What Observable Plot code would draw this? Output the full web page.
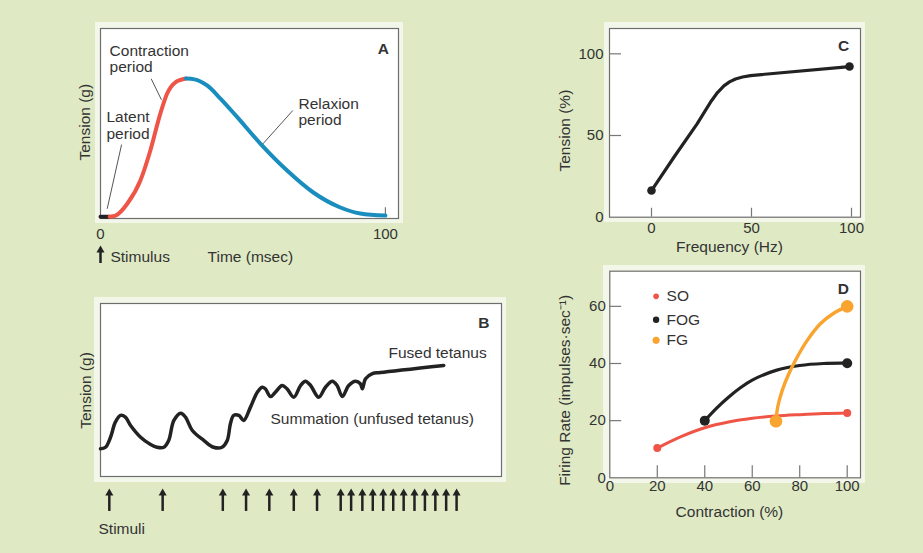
<!DOCTYPE html>
<html><head><meta charset="utf-8">
<script src="https://cdn.jsdelivr.net/npm/d3@7"></script>
<script src="https://cdn.jsdelivr.net/npm/@observablehq/plot@0.6"></script>
<style>
body{margin:0;background:#dfeac5;}
#fig{position:relative;width:923px;height:553px;background:#dfeac5;font-family:"Liberation Sans",Arial,sans-serif;color:#333;overflow:hidden}
.pale{position:absolute;background:#f3f7ea}
.panel{position:absolute}
</style></head><body><div id="fig"></div>
<script>
// ---------- Panel A: single twitch ----------
const latentTime = [0, 3.2];
const latentTension = [0.6, 0.6];
const contractTime = [3.2, 5.3, 9.4, 14, 17.5, 21, 23.4, 26.3, 30];
const contractTension = [0.6, 1.4, 9.9, 26.6, 48.2, 74.8, 89.2, 97.3, 100];
const relaxTime = [30, 33, 37.4, 42.1, 48, 56.1, 65.5, 74.7, 84.2, 91.2, 100];
const relaxTension = [100, 99.4, 95, 85.6, 72.2, 53.2, 33.8, 18, 7.2, 2.9, 1.4];
const timeTicks = [0, 100];

// ---------- Panel B: summation / tetanus ----------
const sumTime = [0,1.25,2.5,3.7,5.0,6.2,7.5,10.0,12.5,14.1,15.8,17.0,18.3,20.0,21.2,22.9,25.8,28.2,30.3,31.6,32.4,33.2,34.5,35.7,37.4,39.1,40.3,41.1,42.4,43.6,45.3,46.5,48.2,49.9,51.1,52.4,54.4,56.1,57.8,59.0,60.3,61.9,63.6,64.8,65.3,66.1,67.8,69.8,85.6];
const sumTension = [16.0,16.9,22.7,31.4,35.3,34.3,29.5,22.7,18.5,16.9,16.9,20.8,32.4,36.6,34.3,26.6,20.8,16.9,16.9,20.8,30.5,35.3,35.3,32.4,40.1,48.7,51.6,50.7,46.2,48.7,52.6,50.7,45.8,52.6,55.1,52.6,45.8,51.6,55.1,52.6,46.2,52.6,55.1,53.6,50.7,56.5,59.4,60.1,64.2];
const stimuliTime = [2.2,15.5,30.5,36.3,42.1,48.2,54.0,59.9,62.5,65.3,67.9,70.5,73.0,75.6,78.3,80.9,83.5,86.2,88.8];

// ---------- Panel C: frequency vs tension ----------
const freqHz = [0, 11.2, 22.8, 30, 33, 36.2, 39, 42, 45.5, 49.5, 99];
const freqTension = [16.3, 36.7, 57.1, 71.3, 76.3, 80.4, 82.8, 84.6, 85.8, 86.7, 92.2];
const freqTicks = [0, 50, 100];
const tensionTicks = [0, 50, 100];

// ---------- Panel D: firing rate vs contraction ----------
const soContraction = [20, 30, 40, 50, 60, 70, 80, 90, 100];
const soRate = [10.4, 14.4, 17.5, 19.5, 20.8, 21.6, 22.1, 22.5, 22.7];
const fogContraction = [40, 45, 50, 55, 60, 70, 80, 90, 100];
const fogRate = [20, 24.4, 28.2, 31.5, 34.2, 37.6, 39.3, 40, 40.1];
const fgContraction = [70, 70.7, 72.6, 75.4, 78.9, 83.1, 88.7, 94.3, 100];
const fgRate = [19.8, 24.7, 30.5, 36.4, 42.2, 48, 53.9, 57.6, 60];
const contractionTicks = [0, 20, 40, 60, 80, 100];
const rateTicks = [0, 20, 40, 60];
const fiberTypes = ["SO", "FOG", "FG"];

const RED = "#ef5547", BLUE = "#1a8dbf", ORANGE = "#f8a42f", INK = "#222", TXT = "#333";
const FONT = "Liberation Sans, Arial, Helvetica, sans-serif";
const zip = (xs, ys) => xs.map((x, i) => ({x, y: ys[i]}));
const baseStyle = {background: "transparent", color: TXT, fontFamily: FONT, fontSize: "15px", overflow: "visible"};
const fig = document.getElementById("fig");

function place(el, left, top) {
  el.classList.add("panel");
  el.style.left = left + "px";
  el.style.top = top + "px";
  fig.appendChild(el);
}
function pale(l, t, r, b) {
  const d = document.createElement("div");
  d.className = "pale";
  Object.assign(d.style, {left: l + "px", top: t + "px", width: (r - l) + "px", height: (b - t) + "px"});
  fig.appendChild(d);
}
const T = (arr, opts) => Plot.text(arr, {x: "x", y: "y", text: "t", fontSize: 15.5, fill: TXT, ...opts});

pale(95, 22, 403, 223);
pale(94, 297, 506, 482);
pale(604, 22, 865, 222);
pale(603, 265, 865, 483);

// Panel A
const A = Plot.plot({
  width: 360, height: 260, marginLeft: 40, marginRight: 22, marginTop: 18, marginBottom: 52,
  x: {domain: [0, 104.6], label: null},
  y: {domain: [-0.7, 136], axis: null, label: null},
  style: baseStyle,
  marks: [
    Plot.frame({fill: "white", stroke: "#6e6e6e", strokeWidth: 1.2}),
    Plot.ruleX([{x: 100}], {x: "x", y1: 0, y2: 7, stroke: "#777", strokeWidth: 1.2}),
    Plot.line(zip(latentTime, latentTension), {x: "x", y: "y", stroke: INK, strokeWidth: 4}),
    Plot.line(zip(contractTime, contractTension), {x: "x", y: "y", stroke: RED, strokeWidth: 4, curve: "monotone-x"}),
    Plot.line(zip(relaxTime, relaxTension), {x: "x", y: "y", stroke: BLUE, strokeWidth: 4, curve: "monotone-x"}),
    Plot.link([
      {x1: 17.8, y1: 99.8, x2: 21.4, y2: 84.7},
      {x1: 7.4, y1: 52.5, x2: 2.35, y2: 6.3},
      {x1: 67.5, y1: 77, x2: 57, y2: 53}
    ], {x1: "x1", y1: "y1", x2: "x2", y2: "y2", stroke: "#555", strokeWidth: 1}),
    T([
      {x: 3.2, y: 120, t: "Contraction"}, {x: 3.2, y: 108.3, t: "period"},
      {x: 2.1, y: 72, t: "Latent"}, {x: 2.1, y: 60.4, t: "period"},
      {x: 69.5, y: 82, t: "Relaxion"}, {x: 69.5, y: 70.5, t: "period"},
      {x: 3.5, y: -28.4, t: "Stimulus"}
    ], {textAnchor: "start"}),
    T([{x: 52.6, y: -28.4, t: "Time (msec)"}]),
    T([{x: 99.3, y: 120.9, t: "A"}], {fontWeight: "bold"}),
    T([{x: -5.3, y: 68.6, t: "Tension (g)"}], {rotate: -90}),
    Plot.axisX(timeTicks, {tickSize: 0, tickPadding: 10, fontSize: 15, label: null}),
    Plot.ruleX([{x: 0}], {x: "x", y1: -33.1, y2: -24, stroke: INK, strokeWidth: 2.5}),
    Plot.dot([{x: 0, y: -20.1}], {x: "x", y: "y", symbol: "triangle", r: 3, fill: INK, dy: 4.7})
  ]
});
place(A, 60, 10);

// Panel B
const B = Plot.plot({
  width: 460, height: 270, marginLeft: 40, marginRight: 19, marginTop: 23, marginBottom: 74,
  x: {domain: [0, 100], axis: null, label: null},
  y: {domain: [0, 100], axis: null, label: null},
  style: baseStyle,
  marks: [
    Plot.frame({fill: "white", stroke: "#6e6e6e", strokeWidth: 1.2}),
    Plot.line(zip(sumTime, sumTension), {x: "x", y: "y", stroke: INK, strokeWidth: 3.5, curve: "catmull-rom"}),
    T([{x: 96.3, y: 71.4, t: "Fused tetanus"}], {textAnchor: "end"}),
    T([{x: 42.4, y: 33.5, t: "Summation (unfused tetanus)"}], {textAnchor: "start"}),
    T([{x: 95.6, y: 88.6, t: "B"}], {fontWeight: "bold"}),
    T([{x: -3.7, y: 49.7, t: "Tension (g)"}], {rotate: -90}),
    T([{x: -0.5, y: -30.6, t: "Stimuli"}], {textAnchor: "start"}),
    Plot.ruleX(stimuliTime, {x: d => d, y1: -20.2, y2: -10.5, stroke: INK, strokeWidth: 2.5}),
    Plot.dot(stimuliTime, {x: d => d, y: () => -6.9, symbol: "triangle", r: 3, fill: INK, dy: 4.7})
  ]
});
place(B, 60, 280);

// Panel C
const C = Plot.plot({
  width: 380, height: 260, marginLeft: 69, marginRight: 60, marginTop: 18, marginBottom: 53.3,
  x: {domain: [-21, 104.5], label: null},
  y: {domain: [0, 115.5], label: null},
  style: baseStyle,
  marks: [
    Plot.frame({fill: "white", stroke: "#6e6e6e", strokeWidth: 1.2}),
    Plot.ruleX(freqTicks, {x: d => d, y1: 0, y2: 5.5, stroke: "#777", strokeWidth: 1.2}),
    Plot.ruleY(tensionTicks.filter(d => d > 0), {y: d => d, x1: -21, x2: -15, stroke: "#777", strokeWidth: 1.2}),
    Plot.line(zip(freqHz, freqTension), {x: "x", y: "y", stroke: INK, strokeWidth: 3.2, curve: "linear", strokeLinejoin: "round"}),
    Plot.dot([zip(freqHz, freqTension)[0], zip(freqHz, freqTension)[freqHz.length - 1]], {x: "x", y: "y", r: 4.3, fill: INK}),
    Plot.axisX(freqTicks, {tickSize: 0, tickPadding: 5, fontSize: 15, label: null}),
    Plot.axisY(tensionTicks, {tickSize: 0, tickPadding: 6, fontSize: 15, label: null}),
    T([{x: 39, y: -18.5, t: "Frequency (Hz)"}]),
    T([{x: -43, y: 53, t: "Tension (%)"}], {rotate: -90}),
    T([{x: 96, y: 104.5, t: "C"}], {fontWeight: "bold"})
  ]
});
place(C, 540, 10);

// Panel D
const so = zip(soContraction, soRate), fog = zip(fogContraction, fogRate), fg = zip(fgContraction, fgRate);
const ends = a => [a[0], a[a.length - 1]];
const D = Plot.plot({
  width: 380, height: 290, marginLeft: 69.3, marginRight: 60, marginTop: 10.7, marginBottom: 72.7,
  x: {domain: [0, 105.6], label: null},
  y: {domain: [0, 72.3], label: null},
  style: baseStyle,
  marks: [
    Plot.frame({fill: "white", stroke: "#6e6e6e", strokeWidth: 1.2}),
    Plot.ruleX(contractionTicks.filter(d => d > 0), {x: d => d, y1: 0, y2: 4.2, stroke: "#777", strokeWidth: 1.2}),
    Plot.ruleY(rateTicks.filter(d => d > 0), {y: d => d, x1: 0, x2: 5, stroke: "#777", strokeWidth: 1.2}),
    Plot.line(so, {x: "x", y: "y", stroke: RED, strokeWidth: 3, curve: "catmull-rom"}),
    Plot.dot(ends(so), {x: "x", y: "y", r: 4, fill: RED}),
    Plot.line(fog, {x: "x", y: "y", stroke: INK, strokeWidth: 3.2, curve: "catmull-rom"}),
    Plot.dot(ends(fog), {x: "x", y: "y", r: 5, fill: INK}),
    Plot.line(fg, {x: "x", y: "y", stroke: ORANGE, strokeWidth: 3.4, curve: "catmull-rom"}),
    Plot.dot(ends(fg), {x: "x", y: "y", r: 6.3, fill: ORANGE}),
    Plot.dot(fiberTypes, {x: () => 19.5, y: (d, i) => [63.5, 55.3, 48.1][i], r: (d, i) => [3.8, 4.8, 6][i], fill: (d, i) => [RED, INK, ORANGE][i]}),
    Plot.text(fiberTypes, {x: () => 23.9, y: (d, i) => [63.5, 55.3, 48.1][i], text: d => d, textAnchor: "start", fontSize: 15.5, fill: TXT}),
    Plot.axisX(contractionTicks, {tickSize: 0, tickPadding: 3, fontSize: 15, label: null}),
    Plot.axisY(rateTicks, {tickSize: 0, tickPadding: 4, fontSize: 15, label: null}),
    T([{x: 50.4, y: -12.1, t: "Contraction (%)"}]),
    T([{x: -18.7, y: 30.6, t: "Firing Rate (impulses·sec⁻¹)"}], {rotate: -90}),
    T([{x: 98.4, y: 66, t: "D"}], {fontWeight: "bold"})
  ]
});
place(D, 540, 260);
</script></body></html>
